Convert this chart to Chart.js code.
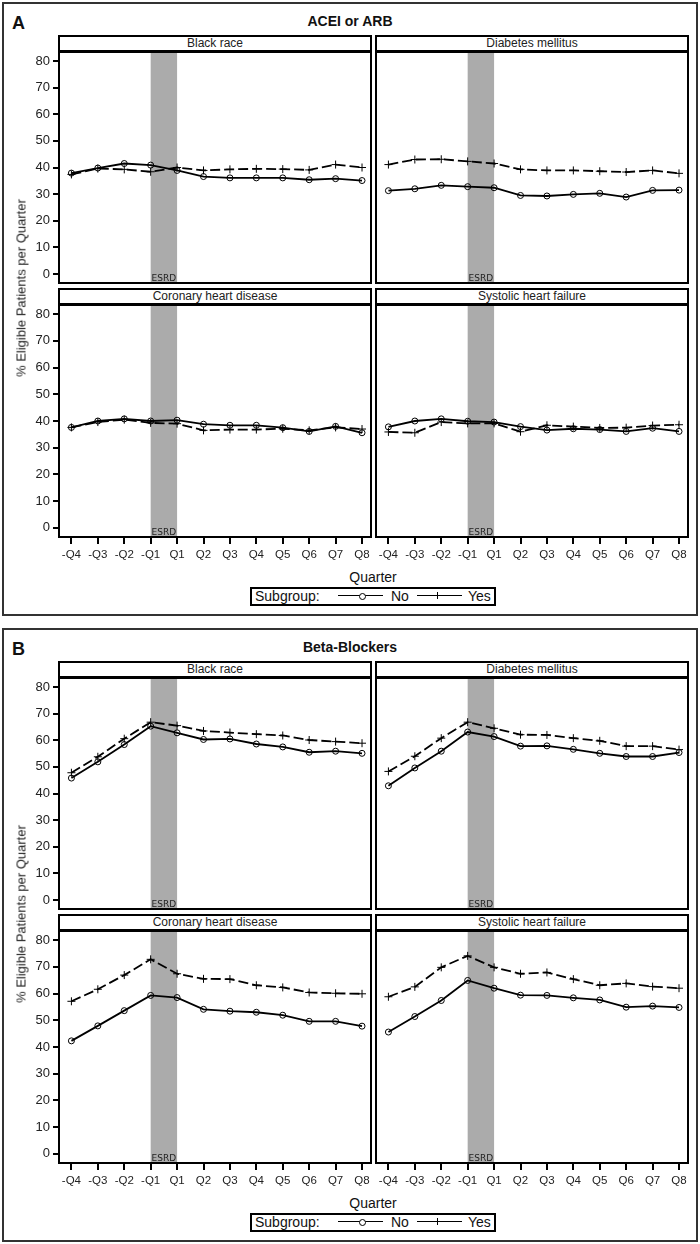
<!DOCTYPE html>
<html>
<head>
<meta charset="utf-8">
<script src="https://cdn.jsdelivr.net/npm/chart.js@4.4.1/dist/chart.umd.min.js"></script>
<style>
body { margin: 0; background: #fff; font-family: 'Liberation Sans', Arial, sans-serif; color: #111; }
#page { position: relative; width: 700px; height: 1244px; overflow: hidden; }
#page div, #page span, #page canvas { position: absolute; }
.panel { border: 2px solid #333; box-sizing: border-box; }
.letter { font-weight: bold; font-size: 18px; line-height: 18px; }
.title { font-weight: bold; font-size: 14px; line-height: 16px; text-align: center; }
.strip { border: 2px solid #000; box-sizing: border-box; font-size: 12px; line-height: 13px; text-align: center; background: #fff; color: #222; }
.ytitle { font-size: 13px; white-space: nowrap; transform: translate(-50%, -50%) rotate(-90deg); color: #222; }
.xtitle { font-size: 14px; line-height: 16px; white-space: nowrap; transform: translateX(-50%); color: #111; }
.legend { border: 2px solid #000; box-sizing: border-box; }
.ltext { font-size: 14px; line-height: 19px; white-space: nowrap; color: #111; }
</style>
</head>
<body>
<div id="page"></div>
<script>
const quarters = ['-Q4', '-Q3', '-Q2', '-Q1', 'Q1', 'Q2', 'Q3', 'Q4', 'Q5', 'Q6', 'Q7', 'Q8'];
const yTicks = [0, 10, 20, 30, 40, 50, 60, 70, 80];
const esrdBand = [3, 4]; // -Q1 .. Q1
const subgroups = ['No', 'Yes'];
const facetNames = ['Black race', 'Diabetes mellitus', 'Coronary heart disease', 'Systolic heart failure'];

// A: ACEI or ARB
const aceiBlackNo = [37.9, 39.8, 41.5, 40.9, 38.9, 36.6, 36.1, 36.1, 36.1, 35.4, 35.8, 35.1];
const aceiBlackYes = [37.4, 39.6, 39.3, 38.4, 40.0, 38.9, 39.3, 39.5, 39.4, 39.1, 41.1, 40.0];
const aceiDiabNo = [31.3, 32.0, 33.3, 32.8, 32.4, 29.5, 29.3, 29.9, 30.3, 28.9, 31.4, 31.5];
const aceiDiabYes = [41.1, 43.0, 43.1, 42.3, 41.5, 39.3, 38.9, 38.9, 38.6, 38.3, 38.9, 37.8];
const aceiChdNo = [37.6, 40.0, 40.8, 40.0, 40.3, 38.8, 38.4, 38.4, 37.5, 36.1, 38.0, 35.6];
const aceiChdYes = [37.6, 39.6, 40.5, 39.3, 39.0, 36.5, 36.8, 36.8, 37.1, 36.5, 37.6, 37.0];
const aceiShfNo = [37.8, 40.0, 40.8, 39.9, 39.6, 37.9, 36.6, 37.1, 36.8, 36.1, 37.3, 36.1];
const aceiShfYes = [35.9, 35.6, 39.6, 39.1, 39.1, 36.0, 38.4, 37.9, 37.4, 37.5, 38.3, 38.6];

// B: Beta-Blockers
const betaBlackNo = [45.8, 51.9, 58.4, 65.3, 62.8, 60.3, 60.5, 58.6, 57.5, 55.5, 55.9, 55.1];
const betaBlackYes = [47.8, 53.8, 60.6, 66.8, 65.5, 63.5, 62.9, 62.3, 61.8, 60.1, 59.5, 58.9];
const betaDiabNo = [42.9, 49.6, 55.9, 63.1, 61.4, 57.8, 57.9, 56.6, 55.1, 53.9, 53.9, 55.4];
const betaDiabYes = [48.3, 54.0, 60.8, 66.8, 64.5, 62.1, 62.0, 60.8, 59.8, 57.8, 57.8, 56.5];
const betaChdNo = [42.3, 47.9, 53.6, 59.3, 58.5, 54.1, 53.4, 53.0, 51.9, 49.6, 49.6, 47.8];
const betaChdYes = [57.1, 61.6, 66.9, 72.8, 67.4, 65.5, 65.4, 63.1, 62.3, 60.4, 60.1, 59.9];
const betaShfNo = [45.6, 51.4, 57.4, 64.9, 62.0, 59.4, 59.3, 58.4, 57.6, 54.9, 55.3, 54.8];
const betaShfYes = [58.8, 62.5, 69.8, 74.1, 69.8, 67.4, 67.9, 65.4, 63.1, 63.8, 62.6, 62.0];

const panels = [
  { letter: 'A', title: 'ACEI or ARB', offset: 0, boxTop: 2, boxH: 614,
    series: [[aceiBlackNo, aceiBlackYes], [aceiDiabNo, aceiDiabYes], [aceiChdNo, aceiChdYes], [aceiShfNo, aceiShfYes]] },
  { letter: 'B', title: 'Beta-Blockers', offset: 626, boxTop: 628, boxH: 614,
    series: [[betaBlackNo, betaBlackYes], [betaDiabNo, betaDiabYes], [betaChdNo, betaChdYes], [betaShfNo, betaShfYes]] }
];

Chart.defaults.font.family = "'Liberation Sans', Arial, sans-serif";
Chart.defaults.color = '#222';

const page = document.getElementById('page');
function place(tag, cls, x, y, css, text) {
  const el = document.createElement(tag);
  if (cls) el.className = cls;
  el.style.left = x + 'px';
  el.style.top = y + 'px';
  Object.assign(el.style, css || {});
  if (text !== undefined) el.textContent = text;
  page.appendChild(el);
  return el;
}

const esrdPlugin = {
  id: 'esrd',
  beforeDatasetsDraw(chart) {
    const { ctx, chartArea: a, scales: { x } } = chart;
    const x0 = x.getPixelForValue(esrdBand[0]);
    const x1 = x.getPixelForValue(esrdBand[1]);
    ctx.save();
    ctx.fillStyle = '#ababab';
    ctx.fillRect(x0, a.top, x1 - x0, a.bottom - a.top);
    ctx.fillStyle = '#222';
    ctx.font = '9px "DejaVu Sans"';
    ctx.textAlign = 'center';
    ctx.textBaseline = 'alphabetic';
    ctx.fillText('ESRD', (x0 + x1) / 2, a.bottom - 2);
    ctx.restore();
  },
  afterDraw(chart) {
    const { ctx, chartArea: a } = chart;
    ctx.save();
    ctx.strokeStyle = '#000';
    ctx.lineWidth = 2;
    ctx.strokeRect(a.left, a.top, a.right - a.left, a.bottom - a.top);
    ctx.restore();
  }
};

const colGeom = [
  { left: 6, width: 369, padL: 0, padR: 4, yW: 53, strip: 58 },
  { left: 372, width: 322, padL: 4, padR: 6, yW: 0, strip: 375 }
];
const rowGeom = [
  { top: 49, height: 238, padT: 3, padB: 4, xH: 0, strip: 35 },
  { top: 302, height: 265, padT: 3, padB: 0, xH: 30, strip: 288 }
];

// fixed axis size and no label overhang padding, so every facet has the same plot box
function fixAxis(axis, size) {
  if (axis.isHorizontal()) axis.height = size; else axis.width = size;
  axis.paddingTop = 0;
  axis.paddingBottom = 0;
  axis.paddingLeft = 0;
  axis.paddingRight = 0;
}

function makeFacet(panel, idx) {
  const col = colGeom[idx % 2], row = rowGeom[Math.floor(idx / 2)];
  const o = panel.offset;
  const [noVals, yesVals] = panel.series[idx];

  place('div', 'strip', col.strip, row.strip + o, { width: '314px', height: '17px' }, facetNames[idx]);

  const cv = place('canvas', '', col.left, row.top + o);
  cv.width = col.width;
  cv.height = row.height;

  new Chart(cv, {
    type: 'line',
    data: {
      datasets: [
        {
          label: subgroups[0],
          data: noVals.map((v, i) => ({ x: i, y: v })),
          borderColor: '#000',
          borderWidth: 1.8,
          pointStyle: 'circle',
          pointRadius: 3,
          pointBorderWidth: 1,
          pointBorderColor: '#000',
          pointBackgroundColor: 'rgba(0,0,0,0)',
          tension: 0
        },
        {
          label: subgroups[1],
          data: yesVals.map((v, i) => ({ x: i, y: v })),
          borderColor: '#000',
          borderWidth: 1.8,
          borderDash: [10, 4],
          pointStyle: 'cross',
          pointRadius: 4,
          pointBorderWidth: 1,
          pointBorderColor: '#000',
          tension: 0
        }
      ]
    },
    options: {
      responsive: false,
      animation: false,
      devicePixelRatio: 1,
      layout: { autoPadding: false, padding: { left: col.padL, right: col.padR, top: row.padT, bottom: row.padB } },
      scales: {
        x: {
          type: 'linear',
          min: -0.47,
          max: 11.34,
          display: row.xH > 0,
          afterBuildTicks: (axis) => { axis.ticks = quarters.map((q, i) => ({ value: i })); },
          afterFit: (axis) => fixAxis(axis, row.xH),
          grid: { drawOnChartArea: false, drawTicks: true, tickLength: 7, color: '#000', lineWidth: 2 },
          border: { display: false },
          ticks: {
            autoSkip: false, maxRotation: 0, minRotation: 0, padding: 4,
            font: { size: 11.5 }, color: '#222',
            callback: (v) => quarters[v]
          }
        },
        y: {
          min: -3.4,
          max: 83.4,
          display: col.yW > 0,
          afterBuildTicks: (axis) => { axis.ticks = yTicks.map(v => ({ value: v })); },
          afterFit: (axis) => fixAxis(axis, col.yW),
          grid: { drawOnChartArea: false, drawTicks: true, tickLength: 6, color: '#000', lineWidth: 2 },
          border: { display: false },
          ticks: { padding: 3, font: { size: 13 }, color: '#222' }
        }
      },
      plugins: { legend: { display: false }, tooltip: { enabled: false } }
    },
    plugins: [esrdPlugin]
  });
}

panels.forEach(p => {
  const o = p.offset;
  place('div', 'panel', 2, p.boxTop, { width: '696px', height: p.boxH + 'px' });
  place('div', 'letter', 12, 14 + o, {}, p.letter);
  place('div', 'title', 0, 13 + o, { width: '700px' }, p.title);
  for (let i = 0; i < 4; i++) makeFacet(p, i);
  place('div', 'ytitle', 21, 287.5 + o, {}, '% Eligible Patients per Quarter');
  place('div', 'xtitle', 373, 569 + o, {}, 'Quarter');

  place('div', 'legend', 250, 587 + o, { width: '246px', height: '19px' });
  place('span', 'ltext', 255, 587 + o, {}, 'Subgroup:');
  place('div', '', 338, 595 + o, { width: '45px', height: '0', borderTop: '1.5px solid #000' });
  place('div', '', 358.5, 592.5 + o, { width: '5px', height: '5px', border: '1px solid #000', borderRadius: '50%', background: '#fff' });
  place('span', 'ltext', 391, 587 + o, {}, subgroups[0]);
  place('div', '', 417, 595 + o, { width: '45px', height: '0', borderTop: '1.5px solid #000' });
  place('div', '', 437, 592 + o, { width: '0', height: '7px', borderLeft: '1px solid #000' });
  place('span', 'ltext', 468, 587 + o, {}, subgroups[1]);
});
</script>
</body>
</html>
